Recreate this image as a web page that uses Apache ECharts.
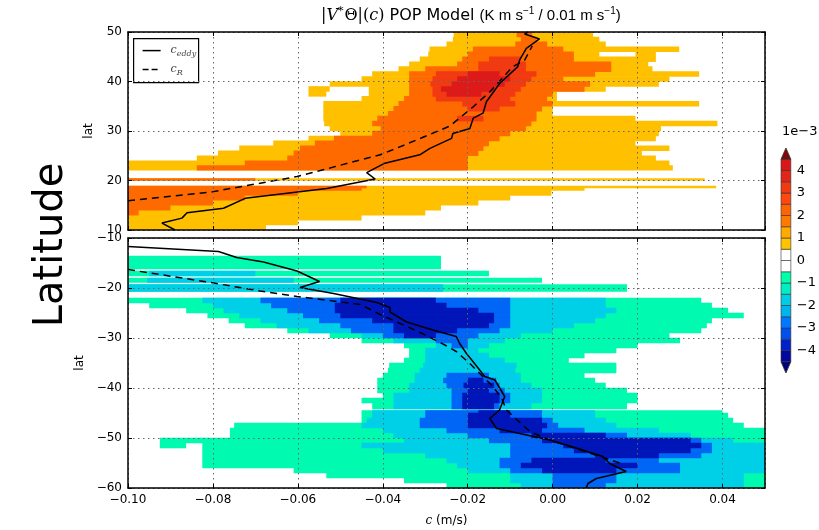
<!DOCTYPE html>
<html>
<head>
<meta charset="utf-8">
<script src="https://cdn.jsdelivr.net/npm/echarts@6/dist/echarts.min.js"></script>
<style>
  html, body { margin: 0; padding: 0; background: #fff; }
  #chart { width: 819px; height: 530px; }
</style>
</head>
<body>
<div id="chart"></div>
<script>
'use strict';

// ---- data ----
var cRange = [-0.10, 0.05];
var topLatRange = [10, 50];
var botLatRange = [-60, -10];

// contour fill colours, level 1..4
var topColors = ['#ffc000', '#ff6a00', '#f23a12', '#dc1a1a'];
var botColors = ['#00fab0', '#00cfe8', '#0066f5', '#0016b8'];

// colorbar levels (x1e-3) and colours
var cbLevels = [-4.5, -4, -3.5, -3, -2.5, -2, -1.5, -1, -0.5, 0, 0.5, 1, 1.5, 2, 2.5, 3, 3.5, 4, 4.5];
var cbColors = ['#0008a0', '#0020c8', '#0050f0', '#0078ff', '#00b4ee', '#00cce6', '#00eec4', '#00ffaa',
                '#ffffff', '#ffffff',
                '#ffc400', '#ffaa00', '#ff7800', '#ff6400', '#ff4810', '#f23a12', '#e42418', '#d81818'];

// rows: [latLo, latHi, [level, c0, c1], ...]
var topBands = [
  [49, 50, [1, -0.0233, 0.0095], [2, -0.0085, -0.0048]],
  [48, 49, [1, -0.0235, 0.011], [2, -0.0075, -0.0038]],
  [47, 48, [1, -0.025, 0.0125], [2, -0.0088, -0.0013]],
  [46, 47, [1, -0.029, 0.0298], [2, -0.0188, 0.0025]],
  [45, 46, [1, -0.0293, 0.011], [1, 0.0195, 0.0243], [2, -0.02, 0.005]],
  [44, 45, [1, -0.0313, 0.0243], [2, -0.0213, 0.005], [3, -0.015, -0.0075]],
  [43, 44, [1, -0.0338, 0.0225], [2, -0.0225, 0.0138], [3, -0.0175, -0.0063]],
  [42, 43, [1, -0.0363, 0.0235], [2, -0.03, 0.0138], [3, -0.0175, -0.0063]],
  [41, 42, [1, -0.0425, 0.0345], [2, -0.0338, 0.01], [3, -0.0275, -0.0038], [4, -0.02, -0.0125]],
  [40, 41, [1, -0.045, 0.0275], [2, -0.0338, 0.0025], [3, -0.0283, -0.005], [4, -0.0225, -0.01]],
  [39, 40, [1, -0.0525, 0.025], [2, -0.0338, 0.0088], [3, -0.0288, -0.0063], [4, -0.0238, -0.0113]],
  [38, 39, [1, -0.0575, -0.0525], [1, -0.0433, 0.0125], [2, -0.0338, 0.0075], [3, -0.0283, -0.0075], [4, -0.0263, -0.0138]],
  [37, 38, [1, -0.0575, -0.0533], [1, -0.0433, 0.001], [2, -0.0338, 0], [3, -0.0283, -0.0088], [4, -0.025, -0.0168]],
  [36, 37, [1, -0.045, 0.001], [2, -0.035, -0.0013], [3, -0.0275, -0.01]],
  [35, 36, [1, -0.054, 0.0345], [2, -0.0363, 0], [3, -0.0213, -0.0088]],
  [34, 35, [1, -0.054, 0], [2, -0.0375, -0.0025], [3, -0.02, -0.0125]],
  [33, 34, [1, -0.054, 0], [2, -0.0388, -0.0038]],
  [32, 33, [1, -0.054, 0.0195], [2, -0.0413, -0.0038], [3, -0.0225, -0.0163]],
  [31, 32, [1, -0.0538, 0.0388], [2, -0.0425, -0.005]],
  [30, 31, [1, -0.0525, 0.0255], [2, -0.0405, -0.0063]],
  [29, 30, [1, -0.05, 0.025], [2, -0.0425, -0.01]],
  [28, 29, [1, -0.0575, 0.0243], [2, -0.0515, -0.0125]],
  [27, 28, [1, -0.0658, 0.0195], [2, -0.056, -0.015]],
  [26, 27, [1, -0.0738, 0.0275], [2, -0.0595, -0.0163]],
  [25, 26, [1, -0.0788, 0.021], [2, -0.061, -0.0175]],
  [24, 25, [1, -0.0838, 0.0243], [2, -0.0625, -0.02]],
  [23, 24, [1, -0.1, 0.0275], [2, -0.0725, -0.02]],
  [22.1, 23, [1, -0.1, 0.0283], [2, -0.0838, -0.02]],
  [20, 20.4, [1, -0.1, 0.0358], [2, -0.1, -0.07]],
  [18.5, 18.9, [1, -0.1, 0.0385], [2, -0.1, -0.0438]],
  [18, 18.5, [1, -0.1, 0.0075], [2, -0.1, -0.045]],
  [17, 18, [1, -0.1, -0.0003], [2, -0.1, -0.06]],
  [16, 17, [1, -0.1, -0.01], [2, -0.1, -0.0725]],
  [15, 16, [1, -0.1, -0.0175], [2, -0.1, -0.08]],
  [14, 15, [1, -0.1, -0.0263], [2, -0.1, -0.09]],
  [13, 14, [1, -0.1, -0.03], [2, -0.1, -0.0975]],
  [12, 13, [1, -0.1, -0.045]],
  [11, 12, [1, -0.1, -0.06]],
  [10, 11, [1, -0.1, -0.0675]]
];

var botBands = [
  [-16.2, -13.6, [1, -0.1, -0.0263]],
  [-17.6, -16.6, [1, -0.1, -0.015], [2, -0.095, -0.07]],
  [-18.9, -18.0, [1, -0.1, -0.0025], [2, -0.0955, -0.061]],
  [-20.7, -19.3, [1, -0.1, 0.0175], [2, -0.1, -0.0258]],
  [-23, -22, [1, -0.1, 0.035], [2, -0.0825, 0.0125], [3, -0.0688, -0.01], [4, -0.05, -0.0275]],
  [-24, -23, [1, -0.095, 0.0375], [2, -0.08, 0.0125], [3, -0.0663, -0.01], [4, -0.0513, -0.025]],
  [-25, -24, [1, -0.0863, 0.0413], [2, -0.0775, 0.015], [3, -0.0625, -0.01], [4, -0.0513, -0.0175]],
  [-26, -25, [1, -0.0813, 0.045], [2, -0.0738, 0.0125], [3, -0.0588, -0.01], [4, -0.05, -0.0138]],
  [-27, -26, [1, -0.0763, 0.0375], [2, -0.0688, 0.01], [3, -0.055, -0.01], [4, -0.0425, -0.0138]],
  [-28, -27, [1, -0.0725, 0.0363], [2, -0.065, 0.005], [3, -0.05, -0.01], [4, -0.0375, -0.015]],
  [-29, -28, [1, -0.0625, 0.035], [2, -0.0575, 0], [3, -0.0475, -0.0125], [4, -0.0375, -0.0225]],
  [-30, -29, [1, -0.0525, 0.0275], [2, -0.045, -0.0075], [3, -0.04, -0.0175], [4, -0.035, -0.0275]],
  [-31, -30, [1, -0.045, 0.03], [2, -0.0375, -0.0113], [3, -0.0275, -0.02]],
  [-32, -31, [1, -0.035, 0.02], [2, -0.0275, -0.015], [3, -0.0238, -0.02]],
  [-33, -32, [1, -0.0338, 0.015], [2, -0.03, -0.0175]],
  [-34, -33, [1, -0.0338, 0.0075], [2, -0.03, -0.015]],
  [-35, -34, [1, -0.035, 0.0038], [2, -0.03, -0.0113]],
  [-36, -35, [1, -0.0385, 0.015], [2, -0.0305, -0.0085]],
  [-37, -36, [1, -0.0388, 0.015], [2, -0.0313, -0.0088]],
  [-38, -37, [1, -0.04, 0.0075], [2, -0.0325, -0.0075], [3, -0.025, -0.015]],
  [-39, -38, [1, -0.0413, 0.01], [2, -0.0325, -0.0075], [3, -0.0258, -0.0133], [4, -0.02, -0.0163]],
  [-40, -39, [1, -0.0413, 0.0125], [2, -0.0338, -0.005], [3, -0.025, -0.0125], [4, -0.021, -0.0138]],
  [-41, -40, [1, -0.0413, 0.0175], [2, -0.0338, -0.0025], [3, -0.0238, -0.0113], [4, -0.02, -0.015]],
  [-42, -41, [1, -0.04, 0.02], [2, -0.0375, -0.0025], [3, -0.0238, -0.01], [4, -0.0213, -0.0125]],
  [-43, -42, [1, -0.045, 0.02], [2, -0.0375, -0.0025], [3, -0.0238, -0.01], [4, -0.0213, -0.0125]],
  [-44.2, -43, [1, -0.0425, 0.0175], [2, -0.0375, -0.005], [3, -0.0238, -0.0125], [4, -0.0213, -0.0138]],
  [-45, -44.5, [1, -0.045, 0.04], [2, -0.0425, 0.01], [3, -0.03, -0.0025], [4, -0.0175, -0.01]],
  [-46, -45, [1, -0.045, 0.0413], [2, -0.0425, 0.01], [3, -0.03, -0.0025], [4, -0.02, -0.01]],
  [-47, -46, [1, -0.045, 0.0425], [2, -0.0438, 0.0125], [3, -0.0313, 0], [4, -0.02, -0.0025]],
  [-48, -47, [1, -0.075, 0.045], [2, -0.045, 0.015], [3, -0.0313, 0.0013], [4, -0.02, -0.0013]],
  [-49, -48, [1, -0.076, 0.05], [2, -0.04, 0.025], [3, -0.025, 0.0075], [4, -0.0125, -0.0025]],
  [-50, -49, [1, -0.076, 0.05], [2, -0.0375, 0.0325], [3, -0.02, 0.0175], [4, -0.005, 0.0125]],
  [-51, -50, [1, -0.0925, 0.05], [2, -0.035, 0.0425], [3, -0.015, 0.035], [4, -0.0025, 0.0325]],
  [-52, -51, [1, -0.0925, -0.0863], [1, -0.0825, 0.05], [2, -0.045, 0.05], [3, -0.01, 0.0375], [4, 0.0025, 0.035]],
  [-53, -52, [1, -0.0825, 0.05], [2, -0.04, 0.05], [3, -0.01, 0.0375], [4, 0.005, 0.0325]],
  [-54, -53, [1, -0.0825, 0.05], [2, -0.03, 0.05], [3, -0.01, 0.035], [4, 0.01, 0.025]],
  [-55, -54, [1, -0.0825, 0.05], [2, -0.025, 0.05], [3, -0.0125, 0.025], [4, -0.005, 0.0125]],
  [-56, -55, [1, -0.0825, 0.05], [2, -0.0225, 0.05], [3, -0.0125, 0.03], [4, -0.0075, 0.02]],
  [-57, -56, [1, -0.061, 0.05], [2, -0.02, 0.05], [3, -0.01, 0.03], [4, -0.0025, 0.015]],
  [-58, -57, [1, -0.0533, 0.05], [2, -0.01, 0.045], [3, 0, 0.015]],
  [-59, -58, [1, -0.035, 0.05], [2, -0.01, 0.045], [3, 0, 0.015]],
  [-60, -59, [1, -0.025, 0.05], [2, -0.0075, 0.045], [3, 0, 0.0125]]
];

// phase speed curves: [c, lat]
var topEddy = [[-0.0889, 10], [-0.092, 11.4], [-0.0873, 12.4], [-0.0861, 13.5], [-0.0775, 14.4], [-0.0724, 16.4],
  [-0.0532, 18.4], [-0.0418, 20.3], [-0.0438, 21.6], [-0.0395, 23.5], [-0.0313, 25.2], [-0.0289, 26.5],
  [-0.0238, 28.5], [-0.0235, 29.5], [-0.0195, 30.5], [-0.0187, 32.6], [-0.0164, 33.6], [-0.0156, 35.9],
  [-0.0125, 39.6], [-0.0082, 43], [-0.0078, 44.3], [-0.0062, 46.7], [-0.0031, 48.6], [-0.0066, 49.6], [-0.0058, 50]];
var topR = [[-0.1, 15.9], [-0.0802, 17.7], [-0.0602, 20.8], [-0.0406, 25.2], [-0.0368, 26.5], [-0.0242, 31],
  [-0.0187, 34.9], [-0.0148, 37.9], [-0.0094, 43], [-0.0066, 44.3], [-0.0048, 47.2]];
var botEddy = [[-0.1, -11.7], [-0.0787, -12.7], [-0.0744, -13.9], [-0.0681, -14.8], [-0.0602, -16.6], [-0.0549, -18.7],
  [-0.0595, -19.9], [-0.0516, -21.1], [-0.0414, -22.9], [-0.0383, -23.9], [-0.0383, -24.8], [-0.0344, -26.8],
  [-0.0282, -28.4], [-0.0227, -29.7], [-0.0219, -31.1], [-0.0203, -33.1], [-0.0184, -35.1], [-0.016, -37.7],
  [-0.0136, -38.4], [-0.0113, -41.7], [-0.0125, -44.4], [-0.0148, -46.1], [-0.0132, -48.1], [-0.0007, -50.4],
  [0.0071, -52.4], [0.0118, -53.7], [0.0134, -55.1], [0.0173, -56.7], [0.0103, -58.1], [0.0083, -59.1], [0.0079, -60]];
var botR = [[-0.1, -16.3], [-0.0806, -18.9], [-0.0689, -20.6], [-0.0602, -21.7], [-0.0453, -23.3], [-0.0406, -25.3],
  [-0.0312, -28.9], [-0.0254, -31.4], [-0.0227, -32.7], [-0.0195, -35.1], [-0.018, -36.4], [-0.0144, -39.4],
  [-0.012, -42], [-0.0109, -44.4], [-0.0054, -48.7], [-0.0007, -50.4], [0.0126, -54.1], [0.0158, -55]];

// ---- helpers ----
function minus(s) { return String(s).replace('-', '\u2212'); }

function flatten(rows) {
  var out = [];
  for (var lvl = 1; lvl <= 4; lvl++) {
    rows.forEach(function (r) {
      r.slice(2).forEach(function (s) {
        if (s[0] === lvl) out.push([s[1], s[2], r[0], r[1], lvl]);
      });
    });
  }
  return out;
}

function bandRenderer(colors) {
  return function (params, api) {
    var p0 = api.coord([api.value(0), api.value(3)]);
    var p1 = api.coord([api.value(1), api.value(2)]);
    var cs = params.coordSys;
    var rect = echarts.graphic.clipRectByRect(
      { x: p0[0], y: p0[1] - 0.3, width: p1[0] - p0[0], height: p1[1] - p0[1] + 0.6 },
      { x: cs.x, y: cs.y, width: cs.width, height: cs.height });
    if (!rect) return;
    return { type: 'rect', shape: rect, style: { fill: colors[api.value(4) - 1] } };
  };
}

var dotted = { type: [1.5, 3.5], color: '#666', width: 1 };
var axisFont = { fontSize: 12, color: '#000', fontFamily: 'DejaVu Sans' };

function cAxis(gi, pos, showLabel, showSplit) {
  var ax = {
    type: 'value', gridIndex: gi, position: pos, min: cRange[0], max: cRange[1], interval: 0.02, z: 10,
    axisLine: { show: true, onZero: false, lineStyle: { color: '#000', width: 1.5 } },
    axisTick: { show: true, inside: true, length: 4, lineStyle: { color: '#000' } },
    axisLabel: Object.assign({ show: showLabel, showMaxLabel: false, margin: 6,
      formatter: function (v) { return minus(v.toFixed(2)); } }, axisFont),
    splitLine: { show: showSplit, lineStyle: dotted }
  };
  return ax;
}

function latAxis(gi, range, pos, main) {
  return {
    type: 'value', gridIndex: gi, position: pos, min: range[0], max: range[1], interval: 10, z: 10,
    name: main ? 'lat' : '', nameLocation: 'middle', nameGap: 33, nameRotate: 90,
    nameTextStyle: axisFont,
    axisLine: { show: true, onZero: false, lineStyle: { color: '#000', width: 1.5 } },
    axisTick: { show: true, inside: true, length: 4, lineStyle: { color: '#000' } },
    axisLabel: Object.assign({ show: main, margin: 6, formatter: function (v) { return minus(v); } }, axisFont),
    splitLine: { show: main, lineStyle: dotted }
  };
}

function curve(name, data, xi, yi, dashed) {
  return {
    name: name, type: 'line', xAxisIndex: xi, yAxisIndex: yi, data: data, z: 5,
    showSymbol: false, symbol: 'none', silent: true,
    lineStyle: { color: '#000', width: 1.5, type: dashed ? [7, 5] : 'solid' }
  };
}

var xBottom = cAxis(1, 'bottom', true, true);
xBottom.name = '{i|c} (m/s)';
xBottom.nameLocation = 'middle';
xBottom.nameGap = 27;
xBottom.nameTextStyle = Object.assign({ rich: { i: { fontFamily: 'DejaVu Serif', fontStyle: 'italic', fontSize: 12 } } }, axisFont);

var option = {
  animation: false,
  backgroundColor: '#fff',
  textStyle: { fontFamily: 'DejaVu Sans' },
  grid: [
    { left: 128, top: 32, width: 637, height: 198 },
    { left: 128, top: 238, width: 637, height: 250 },
    { left: 781, top: 148, width: 10, height: 225 }
  ],
  xAxis: [
    cAxis(0, 'bottom', false, true),
    xBottom,
    cAxis(0, 'top', false, false),
    cAxis(1, 'top', false, false),
    { type: 'value', gridIndex: 2, min: 0, max: 1, show: false }
  ],
  yAxis: [
    latAxis(0, topLatRange, 'left', true),
    latAxis(1, botLatRange, 'left', true),
    latAxis(0, topLatRange, 'right', false),
    latAxis(1, botLatRange, 'right', false),
    {
      type: 'value', gridIndex: 2, position: 'right', min: -5, max: 5, interval: 1,
      axisLine: { show: false }, axisTick: { show: false }, splitLine: { show: false },
      axisLabel: Object.assign({ margin: 6,
        formatter: function (v) { return Math.abs(v) === 5 ? '' : minus(v); } }, axisFont, { fontSize: 13 })
    }
  ],
  series: [
    {
      type: 'custom', xAxisIndex: 0, yAxisIndex: 0, silent: true, z: 1,
      renderItem: bandRenderer(topColors), encode: { x: [0, 1], y: [2, 3] },
      data: flatten(topBands)
    },
    {
      type: 'custom', xAxisIndex: 1, yAxisIndex: 1, silent: true, z: 1,
      renderItem: bandRenderer(botColors), encode: { x: [0, 1], y: [2, 3] },
      data: flatten(botBands)
    },
    curve('c_eddy', topEddy, 0, 0, false),
    curve('c_R', topR, 0, 0, true),
    curve('c_eddy', botEddy, 1, 1, false),
    curve('c_R', botR, 1, 1, true),
    {
      type: 'custom', xAxisIndex: 4, yAxisIndex: 4, silent: true,
      data: cbColors.map(function (col, i) { return [cbLevels[i], cbLevels[i + 1], i]; }),
      encode: { y: [0, 1] },
      renderItem: function (params, api) {
        var p0 = api.coord([0, api.value(1)]);
        var p1 = api.coord([1, api.value(0)]);
        return {
          type: 'rect',
          shape: { x: p0[0], y: p0[1], width: p1[0] - p0[0], height: p1[1] - p0[1] },
          style: { fill: cbColors[api.value(2)], stroke: '#333', lineWidth: 0.6 }
        };
      }
    },
    {
      type: 'custom', xAxisIndex: 4, yAxisIndex: 4, silent: true,
      data: [[4.5, 5, 0], [-4.5, -5, 1]],
      encode: { y: [0, 1] },
      renderItem: function (params, api) {
        var a = api.coord([0, api.value(0)]);
        var b = api.coord([1, api.value(0)]);
        var t = api.coord([0.5, api.value(1)]);
        return {
          type: 'polygon',
          shape: { points: [a, b, t] },
          style: { fill: api.value(2) === 0 ? '#800808' : '#000078', stroke: '#333', lineWidth: 0.8 }
        };
      }
    }
  ],
  graphic: [
    {
      type: 'text', left: 321, top: 6,
      style: {
        text: '{m||}{mi|V}{st|*}{m|\u0398|(}{mi|c}{m|)} POP Model {u|(K m s}{sup|\u22121}{u| / 0.01 m s}{sup|\u22121}{u|)}',
        fontSize: 16, fontFamily: 'DejaVu Sans', fill: '#000',
        rich: {
          m: { fontFamily: 'DejaVu Serif', fontSize: 16 },
          mi: { fontFamily: 'DejaVu Serif', fontStyle: 'italic', fontSize: 16 },
          st: { fontFamily: 'DejaVu Serif', fontSize: 11, padding: [0, 1, 9, 0] },
          sup: { fontSize: 10, padding: [0, 0, 9, 0] },
          u: { fontSize: 15 }
        }
      }
    },
    {
      type: 'text', x: 52, y: 245, rotation: Math.PI / 2,
      style: { text: 'Latitude', fontSize: 40, fontFamily: 'DejaVu Sans', fill: '#000', align: 'center', verticalAlign: 'middle' }
    },
    {
      type: 'text', left: 782, top: 125,
      style: { text: '1e\u22123', fontSize: 13, fontFamily: 'DejaVu Sans', fill: '#000' }
    },
    // legend box
    {
      type: 'group', left: 133, top: 38, z: 20,
      children: [
        { type: 'rect', shape: { x: 0, y: 0, width: 65, height: 44 }, style: { fill: '#fff', stroke: '#000', lineWidth: 1.2 } },
        { type: 'line', shape: { x1: 9, y1: 12, x2: 27, y2: 12 }, style: { stroke: '#000', lineWidth: 1.5 } },
        { type: 'line', shape: { x1: 9, y1: 31, x2: 27, y2: 31 }, style: { stroke: '#000', lineWidth: 1.5, lineDash: [6, 3] } },
        {
          type: 'text', x: 37, y: 12,
          style: { text: '{c|c}{s|eddy}', verticalAlign: 'middle', fill: '#444',
            rich: { c: { fontFamily: 'DejaVu Serif', fontStyle: 'italic', fontSize: 11 },
                    s: { fontFamily: 'DejaVu Serif', fontStyle: 'italic', fontSize: 8, padding: [6, 0, 0, 0] } } }
        },
        {
          type: 'text', x: 37, y: 31,
          style: { text: '{c|c}{s|R}', verticalAlign: 'middle', fill: '#444',
            rich: { c: { fontFamily: 'DejaVu Serif', fontStyle: 'italic', fontSize: 11 },
                    s: { fontFamily: 'DejaVu Serif', fontStyle: 'italic', fontSize: 8, padding: [6, 0, 0, 0] } } }
        }
      ]
    }
  ]
};

var chart = echarts.init(document.getElementById('chart'), null, { renderer: 'canvas' });
chart.setOption(option);
</script>
</body>
</html>
